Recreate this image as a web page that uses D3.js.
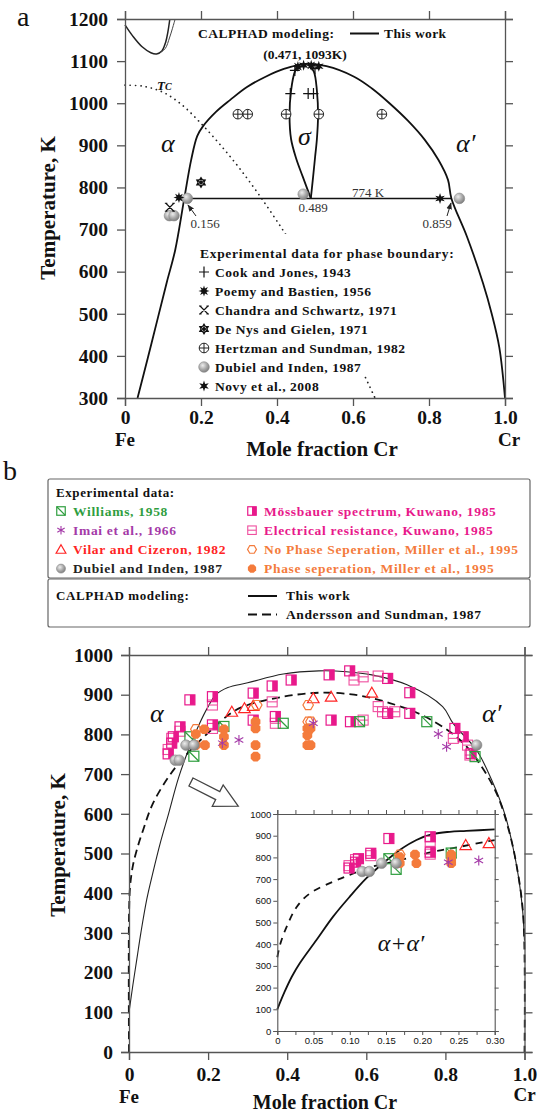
<!DOCTYPE html>
<html><head><meta charset="utf-8">
<script src="https://cdn.jsdelivr.net/npm/d3@7/dist/d3.min.js"></script>
<style>body{margin:0;background:#fff}svg{display:block}</style>
</head><body>
<svg id="c" width="555" height="1115"></svg>
<script>
const SERIF="'Liberation Serif','Times New Roman',serif";
const SANS="'Liberation Sans',Arial,sans-serif";

// ================= Panel a data =================
const aXTicks=[0,0.2,0.4,0.6,0.8,1.0];
const aXLabels=["0","0.2","0.4","0.6","0.8","1.0"];
const aYTicks=[300,400,500,600,700,800,900,1000,1100,1200];
const aBoundary=[[0.033,300],[0.06,395],[0.087,492],[0.11,575],[0.132,651],[0.156,774],[0.174,865],[0.19,922],[0.205,945],[0.24,980],[0.277,1008],[0.32,1038],[0.37,1063],[0.42,1082],[0.471,1093],[0.53,1088],[0.603,1063],[0.65,1035],[0.696,1000],[0.745,958],[0.789,913],[0.825,865],[0.85,818],[0.859,774],[0.9,683],[0.942,573],[0.965,500],[0.985,420],[1.0,300]];
const aSigmaLeft=[[0.458,1091],[0.447,1075],[0.437,1030],[0.433,970],[0.437,915],[0.45,870],[0.468,825],[0.489,774]];
const aSigmaRight=[[0.482,1093],[0.497,1075],[0.505,1030],[0.508,970],[0.505,915],[0.5,870],[0.495,825],[0.489,774]];
const aTie=[[0.156,774],[0.859,774]];
const aGamma1=[[0,1186],[0.02,1160],[0.045,1134],[0.068,1120],[0.083,1117],[0.097,1124],[0.107,1145],[0.113,1170],[0.118,1200]];
const aGamma2=[[0.092,1120],[0.106,1130],[0.117,1155],[0.125,1178],[0.132,1200]];
const aTc=[[0,1043],[0.05,1040],[0.1,1026],[0.15,996],[0.2,952],[0.25,902],[0.3,847],[0.35,786],[0.4,720],[0.45,650],[0.5,575],[0.55,495],[0.6,410],[0.658,300]];
const aCook=[[0.435,1023],[0.482,1023],[0.496,1023],[0.447,1078],[0.5,1082]];
const aPoemy=[[0.142,776],[0.455,1087],[0.49,1090]];
const aChandra=[[0.118,753]];
const aDeNys=[[0.2,812]];
const aHertz=[[0.297,974],[0.323,974],[0.424,974],[0.51,974],[0.676,974]];
const aDubiel=[[0.117,733],[0.129,733],[0.164,774],[0.469,784],[0.88,774]];
const aNovy=[[0.829,774],[0.47,1090],[0.51,1088]];
const aLegendLabels=["Cook and Jones, 1943","Poemy and Bastien, 1956","Chandra and Schwartz, 1971","De Nys and Gielen, 1971","Hertzman and Sundman, 1982","Dubiel and Inden, 1987","Novy et al., 2008"];
const aLegendTypes=["plus","poemy","chandra","denys","hertz","dubiel","novy"];

// ================= Panel b data =================
const bXTicks=[0,0.2,0.4,0.6,0.8,1.0];
const bXLabels=["0","0.2","0.4","0.6","0.8","1.0"];
const bYTicks=[0,100,200,300,400,500,600,700,800,900,1000];
const bThisWork=[[0,100],[0.01,170],[0.02,235],[0.03,300],[0.045,385],[0.06,450],[0.08,530],[0.1,600],[0.125,690],[0.15,760],[0.175,820],[0.2,870],[0.22,900],[0.25,918],[0.3,930],[0.39,952],[0.48,960],[0.55,958],[0.614,950],[0.703,925],[0.793,870],[0.82,827],[0.879,760],[0.917,685],[0.95,600],[0.97,520],[0.985,440],[0.995,360],[1.0,280]];
const bAndersson=[[0,0],[0,340],[0.003,420],[0.01,470],[0.02,510],[0.036,560],[0.06,625],[0.1,693],[0.137,740],[0.196,800],[0.26,855],[0.3,874],[0.39,895],[0.48,905],[0.569,900],[0.659,879],[0.748,845],[0.837,786],[0.886,727],[0.93,650],[0.96,560],[0.98,470],[0.997,340],[1.0,0]];
const bWilliams=[[0.154,794],[0.164,745],[0.24,820],[0.39,828],[0.583,832],[0.753,832],[0.875,744]];
const bImai=[[0.236,778],[0.278,786],[0.466,828],[0.782,801],[0.803,769]];
const bVilar=[[0.26,857],[0.292,866],[0.314,872],[0.466,891],[0.511,895],[0.614,905]];
const bDubiel=[[0.117,735],[0.127,735],[0.144,773],[0.164,773],[0.879,773]];
const bMoss=[[0.099,751],[0.108,778],[0.112,794],[0.129,819],[0.154,887],[0.211,895],[0.211,824],[0.314,904],[0.314,836],[0.362,922],[0.41,937],[0.37,845],[0.506,950],[0.511,836],[0.558,960],[0.56,832],[0.654,941],[0.654,853],[0.71,905],[0.71,853],[0.824,815],[0.845,794],[0.865,752]];
const bElec=[[0.099,762],[0.108,790],[0.129,808],[0.211,874],[0.211,815],[0.362,882],[0.37,828],[0.569,937],[0.592,945],[0.592,836],[0.63,947],[0.63,870],[0.641,857],[0.672,857],[0.82,790],[0.856,773],[0.862,748]];
const bNoPhase=[[0.169,813],[0.323,874],[0.453,874],[0.453,832],[0.46,832]];
const bPhaseSep=[[0.169,801],[0.19,813],[0.169,773],[0.192,773],[0.24,813],[0.24,794],[0.24,773],[0.32,832],[0.32,815],[0.32,773],[0.32,744],[0.451,815],[0.451,798],[0.451,773],[0.459,773],[0.459,815]];
const bLegendLeft=[["Williams, 1958","#2f9e3f","williams"],["Imai et al., 1966","#a43aa8","imai"],["Vilar and Cizeron, 1982","#ff2424","vilar"],["Dubiel and Inden, 1987","#222222","dubiel"]];
const bLegendRight=[["Mössbauer spectrum, Kuwano, 1985","#e8198b","moss"],["Electrical resistance, Kuwano, 1985","#e8198b","elec"],["No Phase Seperation, Miller et al., 1995","#f47b3c","noPhase"],["Phase seperation, Miller et al., 1995","#f47b3c","phaseSep"]];
// inset
const iXTicks=[0,0.05,0.10,0.15,0.20,0.25,0.30];
const iXLabels=["0","0.05","0.10","0.15","0.20","0.25","0.30"];
const iXMinor=[0,0.025,0.05,0.075,0.1,0.125,0.15,0.175,0.2,0.225,0.25,0.275,0.3];
const iYTicks=[0,100,200,300,400,500,600,700,800,900,1000];
const iThisWork=[[0,100],[0.01,180],[0.02,250],[0.031,312],[0.054,419],[0.077,527],[0.1,619],[0.123,704],[0.146,773],[0.169,834],[0.192,880],[0.215,908],[0.238,918],[0.261,922],[0.3,929]];
const iAndersson=[[0,340],[0.004,400],[0.013,481],[0.027,573],[0.045,634],[0.077,688],[0.1,719],[0.123,750],[0.151,773],[0.179,796],[0.215,826],[0.252,849],[0.289,873],[0.3,880]];

// ================= helpers =================
const svg=d3.select('#c');
const defs=svg.append('defs');
const gr=defs.append('radialGradient').attr('id','sph').attr('cx','38%').attr('cy','35%').attr('r','70%');
gr.append('stop').attr('offset','0%').attr('stop-color','#ededed');
gr.append('stop').attr('offset','55%').attr('stop-color','#a9a9a9');
gr.append('stop').attr('offset','100%').attr('stop-color','#7a7a7a');

function starPath(x,y,n,ro,ri,rot){
  const p=[];
  for(let i=0;i<2*n;i++){const r=i%2?ri:ro;const a=rot+Math.PI*i/n;p.push([x+r*Math.sin(a),y-r*Math.cos(a)]);}
  return 'M'+p.map(q=>q[0].toFixed(2)+','+q[1].toFixed(2)).join('L')+'Z';
}
function polyPath(x,y,n,r,rot){
  const p=[];for(let i=0;i<n;i++){const a=rot+2*Math.PI*i/n;p.push([x+r*Math.sin(a),y-r*Math.cos(a)]);}
  return 'M'+p.map(q=>q[0].toFixed(2)+','+q[1].toFixed(2)).join('L')+'Z';
}
function mark(g,type,x,y,s){
  s=s||1;
  const h=5*s;
  switch(type){
    case 'plus': g.append('path').attr('d',`M${x-5},${y}H${x+5}M${x},${y-5.5}V${y+5.5}`).attr('stroke','#111').attr('stroke-width',1.2).attr('fill','none');break;
    case 'poemy': g.append('path').attr('d',starPath(x,y,8,5.5,2.6,0)).attr('fill','#111');break;
    case 'novy': g.append('path').attr('d',starPath(x,y,6,5.5,2.3,0)).attr('fill','#111');break;
    case 'chandra': g.append('path').attr('d',`M${x-4},${y-4}L${x+4},${y+4}M${x+4},${y-4}L${x-4},${y+4}M${x-5},${y-4}H${x-2.5}M${x+2.5},${y-4}H${x+5}M${x-5},${y+4}H${x-2.5}M${x+2.5},${y+4}H${x+5}`).attr('stroke','#111').attr('stroke-width',1.1).attr('fill','none');break;
    case 'denys':
      g.append('path').attr('d',starPath(x,y,6,6,3.6,0)).attr('fill','#111');
      g.append('circle').attr('cx',x).attr('cy',y).attr('r',2.4).attr('fill','#fff');
      g.append('path').attr('d',polyPath(x,y,6,2.2,0)).attr('fill','#111');break;
    case 'hertz':
      g.append('circle').attr('cx',x).attr('cy',y).attr('r',4.8).attr('fill','#fff').attr('stroke','#222').attr('stroke-width',1);
      g.append('path').attr('d',`M${x-4.8},${y}H${x+4.8}M${x},${y-4.8}V${y+4.8}`).attr('stroke','#222').attr('stroke-width',1);break;
    case 'dubiel': g.append('circle').attr('cx',x).attr('cy',y).attr('r',5.3*s).attr('fill','url(#sph)').attr('stroke','#8a8a8a').attr('stroke-width',0.6);break;
    case 'williams':
      g.append('rect').attr('x',x-h).attr('y',y-h).attr('width',2*h).attr('height',2*h).attr('fill','none').attr('stroke','#2f9e3f').attr('stroke-width',1.2);
      g.append('path').attr('d',`M${x-h},${y-h}L${x+h},${y+h}`).attr('stroke','#2f9e3f').attr('stroke-width',1.2);break;
    case 'imai':
      g.append('path').attr('d',`M${x},${y-h}V${y+h}M${x-h*0.87},${y-h/2}L${x+h*0.87},${y+h/2}M${x-h*0.87},${y+h/2}L${x+h*0.87},${y-h/2}`).attr('stroke','#a43aa8').attr('stroke-width',1.1);break;
    case 'vilar':
      g.append('path').attr('d',`M${x},${y-h*1.1}L${x+h*1.15},${y+h*0.9}L${x-h*1.15},${y+h*0.9}Z`).attr('fill','none').attr('stroke','#ff2424').attr('stroke-width',1.2);break;
    case 'moss':
      g.append('rect').attr('x',x).attr('y',y-h).attr('width',h).attr('height',2*h).attr('fill','#e8198b');
      g.append('rect').attr('x',x-h).attr('y',y-h).attr('width',2*h).attr('height',2*h).attr('fill','none').attr('stroke','#e8198b').attr('stroke-width',1.2);break;
    case 'elec':
      g.append('rect').attr('x',x-h).attr('y',y-h).attr('width',2*h).attr('height',2*h).attr('fill','none').attr('stroke','#ef4f9f').attr('stroke-width',1.1);
      g.append('path').attr('d',`M${x-h},${y}H${x+h}`).attr('stroke','#ef4f9f').attr('stroke-width',1.1);break;
    case 'noPhase':
      g.append('path').attr('d',polyPath(x,y,6,h*1.05,Math.PI/6)).attr('fill','none').attr('stroke','#f47b3c').attr('stroke-width',1.2);break;
    case 'phaseSep':
      g.append('path').attr('d',polyPath(x,y,8,h*1.05,Math.PI/8)).attr('fill','#f47b3c');break;
  }
}
function styleAxis(g,size,family,weight){
  g.attr('font-size',null).attr('font-family',null);
  g.select('.domain').attr('stroke','#555').attr('stroke-width',1.3);
  g.selectAll('.tick line').attr('stroke','#555').attr('stroke-width',1.3);
  g.selectAll('text').attr('font-size',size).attr('font-family',family).attr('font-weight',weight).attr('fill','#111');
}
function frame(g,x,y,xt,yt,xlab,opt){
  const [x0,x1]=x.range(),[y0,y1]=y.range();
  const L=g.append('g').attr('transform',`translate(${x0},0)`).call(d3.axisLeft(y).tickValues(yt).tickSize(opt.ts).tickPadding(opt.lp).tickFormat(d3.format('d')));
  styleAxis(L,opt.fs,opt.ff,opt.fw);
  const B=g.append('g').attr('transform',`translate(0,${y0})`).call(d3.axisBottom(x).tickValues(opt.xminor||xt).tickSize(opt.ts).tickPadding(opt.bp).tickFormat(d=>{const i=xt.findIndex(v=>Math.abs(v-d)<1e-9);return i>=0?xlab[i]:'';}));
  styleAxis(B,opt.fs,opt.ff,opt.fw);
  const T=g.append('g').attr('transform',`translate(0,${y1})`).call(d3.axisTop(x).tickValues(opt.xminor||xt).tickSize(opt.ts).tickFormat(''));
  styleAxis(T,opt.fs,opt.ff,opt.fw);
  const R=g.append('g').attr('transform',`translate(${x1},0)`).call(d3.axisRight(y).tickValues(yt).tickSize(opt.ts).tickFormat(''));
  styleAxis(R,opt.fs,opt.ff,opt.fw);
}
function txt(g,x,y,s,o){
  const t=g.append('text').attr('x',x).attr('y',y).text(s).attr('font-family',o.ff||SERIF).attr('font-size',o.fs||13).attr('font-weight',o.fw||'normal').attr('fill',o.fill||'#111');
  if(o.anchor)t.attr('text-anchor',o.anchor);
  if(o.style)t.attr('font-style',o.style);
  if(o.ls)t.attr('letter-spacing',o.ls);
  return t;
}

// ================= Panel a =================
const xA=d3.scaleLinear().domain([0,1]).range([125,505]);
const yA=d3.scaleLinear().domain([300,1200]).range([398,19]);
const ga=svg.append('g');
txt(ga,17,26,'a',{fs:28});
const lineA=d3.line().x(d=>xA(d[0])).y(d=>yA(d[1])).curve(d3.curveCatmullRom.alpha(0.5));
ga.append('path').attr('d',lineA(aTc)).attr('fill','none').attr('stroke','#222').attr('stroke-width',1.7).attr('stroke-dasharray','0.1,5.2').attr('stroke-linecap','round');
ga.append('rect').attr('x',196).attr('y',234).attr('width',258).attr('height',140).attr('fill','#fff');
ga.append('path').attr('d',lineA(aGamma1)).attr('fill','none').attr('stroke','#222').attr('stroke-width',1.5);
ga.append('path').attr('d',lineA(aGamma2)).attr('fill','none').attr('stroke','#444').attr('stroke-width',1);
ga.append('path').attr('d',lineA(aBoundary)).attr('fill','none').attr('stroke','#111').attr('stroke-width',1.8);
ga.append('path').attr('d',lineA(aSigmaLeft)).attr('fill','none').attr('stroke','#111').attr('stroke-width',1.8);
ga.append('path').attr('d',lineA(aSigmaRight)).attr('fill','none').attr('stroke','#111').attr('stroke-width',1.8);
ga.append('path').attr('d',d3.line().x(d=>xA(d[0])).y(d=>yA(d[1]))(aTie)).attr('fill','none').attr('stroke','#111').attr('stroke-width',1.5);
frame(ga,xA,yA,aXTicks,aYTicks,aXLabels,{ts:8,lp:9,bp:4,fs:19.5,ff:SERIF,fw:'bold'});
const pa=ga.append('g');
aHertz.forEach(d=>mark(pa,'hertz',xA(d[0]),yA(d[1])));
aDubiel.forEach(d=>mark(pa,'dubiel',xA(d[0]),yA(d[1])));
aCook.forEach(d=>mark(pa,'plus',xA(d[0]),yA(d[1])));
aPoemy.forEach(d=>mark(pa,'poemy',xA(d[0]),yA(d[1])));
aNovy.forEach(d=>mark(pa,'novy',xA(d[0]),yA(d[1])));
aChandra.forEach(d=>mark(pa,'chandra',xA(d[0]),yA(d[1])));
aDeNys.forEach(d=>mark(pa,'denys',xA(d[0]),yA(d[1])));
txt(ga,xA(0),446,'Fe',{fs:19,fw:'bold',anchor:'middle'});
txt(ga,xA(1)+4,446,'Cr',{fs:19,fw:'bold',anchor:'middle'});
txt(ga,322,456,'Mole fraction Cr',{fs:21,fw:'bold',anchor:'middle'});
txt(ga,0,0,'Temperature, K',{fs:21,fw:'bold',anchor:'middle'}).attr('transform','translate(55,208) rotate(-90)');
txt(ga,161,152,'α',{fs:26,style:'italic'});
txt(ga,298,145,'σ',{fs:26,style:'italic'});
txt(ga,456,152,'α′',{fs:26,style:'italic'});
const tc=txt(ga,157,90,'T',{fs:13,style:'italic',fw:'bold'});
tc.append('tspan').attr('font-size',10).text('C');
txt(ga,305,59,'(0.471, 1093K)',{fs:13.5,fw:'bold',anchor:'middle'});
txt(ga,198,38,'CALPHAD modeling:',{fs:13.5,fw:'bold',ls:0.5});
ga.append('line').attr('x1',350).attr('x2',379).attr('y1',33.5).attr('y2',33.5).attr('stroke','#111').attr('stroke-width',2);
txt(ga,384,38,'This work',{fs:13.5,fw:'bold',ls:0.4});
txt(ga,368,197,'774 K',{fs:13,anchor:'middle',fill:'#333'});
txt(ga,313,212,'0.489',{fs:13,anchor:'middle',fill:'#333'});
txt(ga,205,228,'0.156',{fs:13,anchor:'middle',fill:'#333'});
txt(ga,437,228,'0.859',{fs:13,anchor:'middle',fill:'#333'});
defs.append('marker').attr('id','ah').attr('viewBox','0 0 10 10').attr('refX',9).attr('refY',5).attr('markerWidth',7).attr('markerHeight',7).attr('orient','auto').append('path').attr('d','M0,1L10,5L0,9Z').attr('fill','#222');
ga.append('line').attr('x1',196).attr('y1',216).attr('x2',188).attr('y2',205).attr('stroke','#222').attr('stroke-width',1).attr('marker-end','url(#ah)');
ga.append('line').attr('x1',447).attr('y1',216).attr('x2',451).attr('y2',203).attr('stroke','#222').attr('stroke-width',1).attr('marker-end','url(#ah)');
txt(ga,200,258,'Experimental data for phase boundary:',{fs:13.5,fw:'bold',ls:0.7});
aLegendLabels.forEach((l,i)=>{
  const yy=272+i*19;
  mark(ga,aLegendTypes[i],204,yy);
  txt(ga,215,yy+4.5,l,{fs:13.5,fw:'bold',ls:0.55});
});

// ================= Panel b =================
const gb=svg.append('g');
txt(gb,3,480,'b',{fs:28});
gb.append('rect').attr('x',48).attr('y',479).attr('width',482).attr('height',99).attr('rx',2).attr('fill','#fff').attr('stroke','#666').attr('stroke-width',1.2);
gb.append('rect').attr('x',48).attr('y',579).attr('width',482).attr('height',48).attr('rx',2).attr('fill','#fff').attr('stroke','#666').attr('stroke-width',1.2);
txt(gb,56,497,'Experimental data:',{fs:13,fw:'bold',ls:0.6});
bLegendLeft.forEach((d,i)=>{const yy=511+i*19.2;mark(gb,d[2],61,yy,0.85);txt(gb,73,yy+4.5,d[0],{fs:13.5,fw:'bold',fill:d[1],ls:0.7});});
bLegendRight.forEach((d,i)=>{const yy=511+i*19.2;mark(gb,d[2],252,yy,0.85);txt(gb,264,yy+4.5,d[0],{fs:13.5,fw:'bold',fill:d[1],ls:0.7});});
txt(gb,56,600,'CALPHAD modeling:',{fs:13,fw:'bold',ls:0.6});
gb.append('line').attr('x1',248).attr('x2',277).attr('y1',596).attr('y2',596).attr('stroke','#111').attr('stroke-width',2);
txt(gb,286,600,'This work',{fs:13.5,fw:'bold',ls:0.6});
gb.append('line').attr('x1',248).attr('x2',277).attr('y1',614.5).attr('y2',614.5).attr('stroke','#111').attr('stroke-width',2).attr('stroke-dasharray','9,5');
txt(gb,286,619,'Andersson and Sundman, 1987',{fs:13.5,fw:'bold',ls:0.6});

const xB=d3.scaleLinear().domain([0,1]).range([129,524.5]);
const yB=d3.scaleLinear().domain([0,1000]).range([1052,655]);
const lineB=d3.line().x(d=>xB(d[0])).y(d=>yB(d[1])).curve(d3.curveCatmullRom.alpha(0.5));
gb.append('path').attr('d',lineB(bThisWork)).attr('fill','none').attr('stroke','#222').attr('stroke-width',1.1);
gb.append('path').attr('d',lineB(bAndersson)).attr('fill','none').attr('stroke','#111').attr('stroke-width',1.8).attr('stroke-dasharray','8,5');
frame(gb,xB,yB,bXTicks,bYTicks,bXLabels,{ts:8,lp:8,bp:7,fs:19.5,ff:SERIF,fw:'bold'});
const pb=gb.append('g');
function plotSet(g,data,type,x,y){data.forEach(d=>mark(g,type,x(d[0]),y(d[1])));}
plotSet(pb,bElec,'elec',xB,yB);
plotSet(pb,bMoss,'moss',xB,yB);
plotSet(pb,bWilliams,'williams',xB,yB);
plotSet(pb,bVilar,'vilar',xB,yB);
plotSet(pb,bNoPhase,'noPhase',xB,yB);
plotSet(pb,bPhaseSep,'phaseSep',xB,yB);
plotSet(pb,bImai,'imai',xB,yB);
plotSet(pb,bDubiel,'dubiel',xB,yB);
txt(gb,150,722,'α',{fs:26,style:'italic'});
txt(gb,482,722,'α′',{fs:26,style:'italic'});
txt(gb,xB(0),1103,'Fe',{fs:19,fw:'bold',anchor:'middle'});
txt(gb,xB(1),1101,'Cr',{fs:19,fw:'bold',anchor:'middle'});
txt(gb,325,1109,'Mole fraction Cr',{fs:20,fw:'bold',anchor:'middle'});
txt(gb,0,0,'Temperature, K',{fs:21,fw:'bold',anchor:'middle'}).attr('transform','translate(65,845) rotate(-90)');
gb.append('path').attr('d','M0,-4.5L30,-4.5L30,-12L53,0L30,12L30,4.5L0,4.5Z').attr('transform','translate(191,782) rotate(27)').attr('fill','#fff').attr('stroke','#444').attr('stroke-width',1.3);

// inset
const xI=d3.scaleLinear().domain([0,0.3]).range([277.3,494.7]);
const yI=d3.scaleLinear().domain([0,1000]).range([1031,814]);
const gi=gb.append('g');
gi.append('rect').attr('x',277.3).attr('y',814).attr('width',217.4).attr('height',217).attr('fill','#fff');
const lineI=d3.line().x(d=>xI(d[0])).y(d=>yI(d[1])).curve(d3.curveCatmullRom.alpha(0.5));
gi.append('path').attr('d',lineI(iThisWork)).attr('fill','none').attr('stroke','#111').attr('stroke-width',1.8);
gi.append('path').attr('d',lineI(iAndersson)).attr('fill','none').attr('stroke','#111').attr('stroke-width',1.8).attr('stroke-dasharray','7,6');
const fil=d=>d[0]<=0.3;
plotSet(gi,bElec.filter(fil),'elec',xI,yI);
plotSet(gi,bMoss.filter(fil),'moss',xI,yI);
plotSet(gi,bWilliams.filter(fil),'williams',xI,yI);
plotSet(gi,bVilar.filter(fil),'vilar',xI,yI);
plotSet(gi,bNoPhase.filter(fil),'noPhase',xI,yI);
plotSet(gi,bPhaseSep.filter(fil),'phaseSep',xI,yI);
plotSet(gi,bImai.filter(fil),'imai',xI,yI);
plotSet(gi,bDubiel.filter(fil),'dubiel',xI,yI);
frame(gi,xI,yI,iXTicks,iYTicks,iXLabels,{ts:4,lp:2,bp:2,fs:9.5,ff:SANS,fw:'normal',xminor:iXMinor});
gi.selectAll('.domain').attr('stroke-width',1.1);
gi.selectAll('.tick line').attr('stroke-width',1);
txt(gi,401,951,'α+α′',{fs:24,style:'italic',anchor:'middle'});
</script>
</body></html>
